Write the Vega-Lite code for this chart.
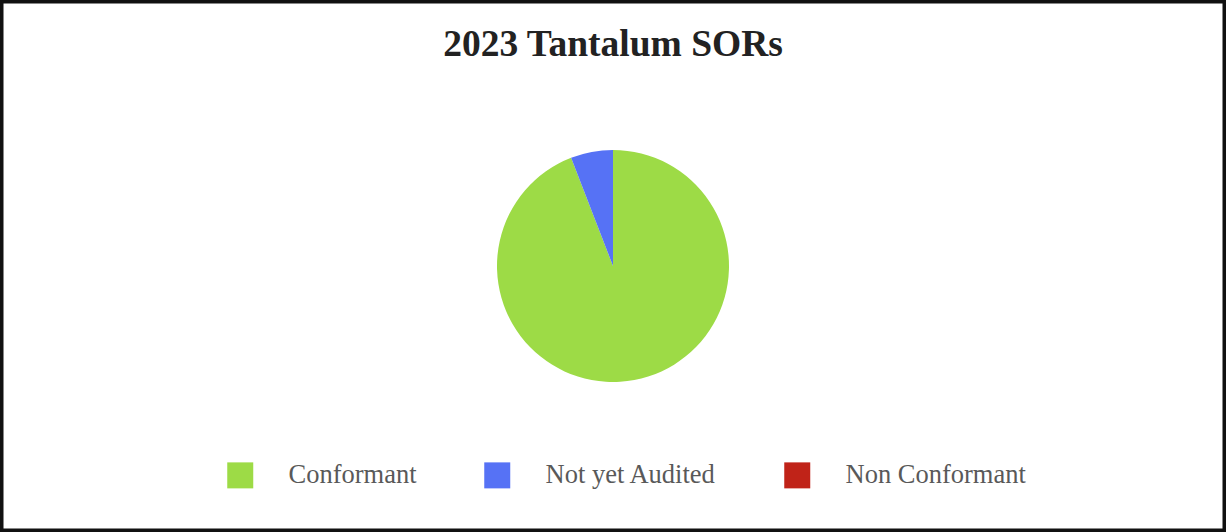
{
  "$schema": "https://vega.github.io/schema/vega-lite/v6.json",
  "width": 1226,
  "height": 532,
  "autosize": {"type": "none"},
  "padding": 0,
  "background": "white",
  "view": {"stroke": "#111111", "strokeWidth": 7, "fill": "white"},
  "title": {
    "text": "2023 Tantalum SORs",
    "font": "Liberation Serif",
    "fontSize": 37.5,
    "fontWeight": "bold",
    "color": "#222222",
    "anchor": "middle",
    "baseline": "alphabetic",
    "offset": -93
  },
  "data": {
    "values": [
      {"status": "Conformant", "count": 16, "order": 1},
      {"status": "Not yet Audited", "count": 1, "order": 2},
      {"status": "Non Conformant", "count": 0, "order": 3}
    ]
  },
  "mark": {"type": "arc", "outerRadius": 116},
  "encoding": {
    "theta": {"field": "count", "type": "quantitative", "stack": true},
    "order": {"field": "order", "type": "quantitative"},
    "color": {
      "field": "status",
      "type": "nominal",
      "scale": {
        "domain": ["Conformant", "Not yet Audited", "Non Conformant"],
        "range": ["#9ddb46", "#5672f5", "#c02318"]
      },
      "legend": {
        "title": null,
        "orient": "none",
        "direction": "horizontal",
        "legendX": 227,
        "legendY": 462,
        "symbolType": "square",
        "symbolSize": 676,
        "symbolStrokeWidth": 0,
        "labelFont": "Liberation Serif",
        "labelFontSize": 26.5,
        "labelColor": "#595959",
        "labelOffset": 35,
        "columnPadding": 67,
        "labelLimit": 400
      }
    }
  }
}
